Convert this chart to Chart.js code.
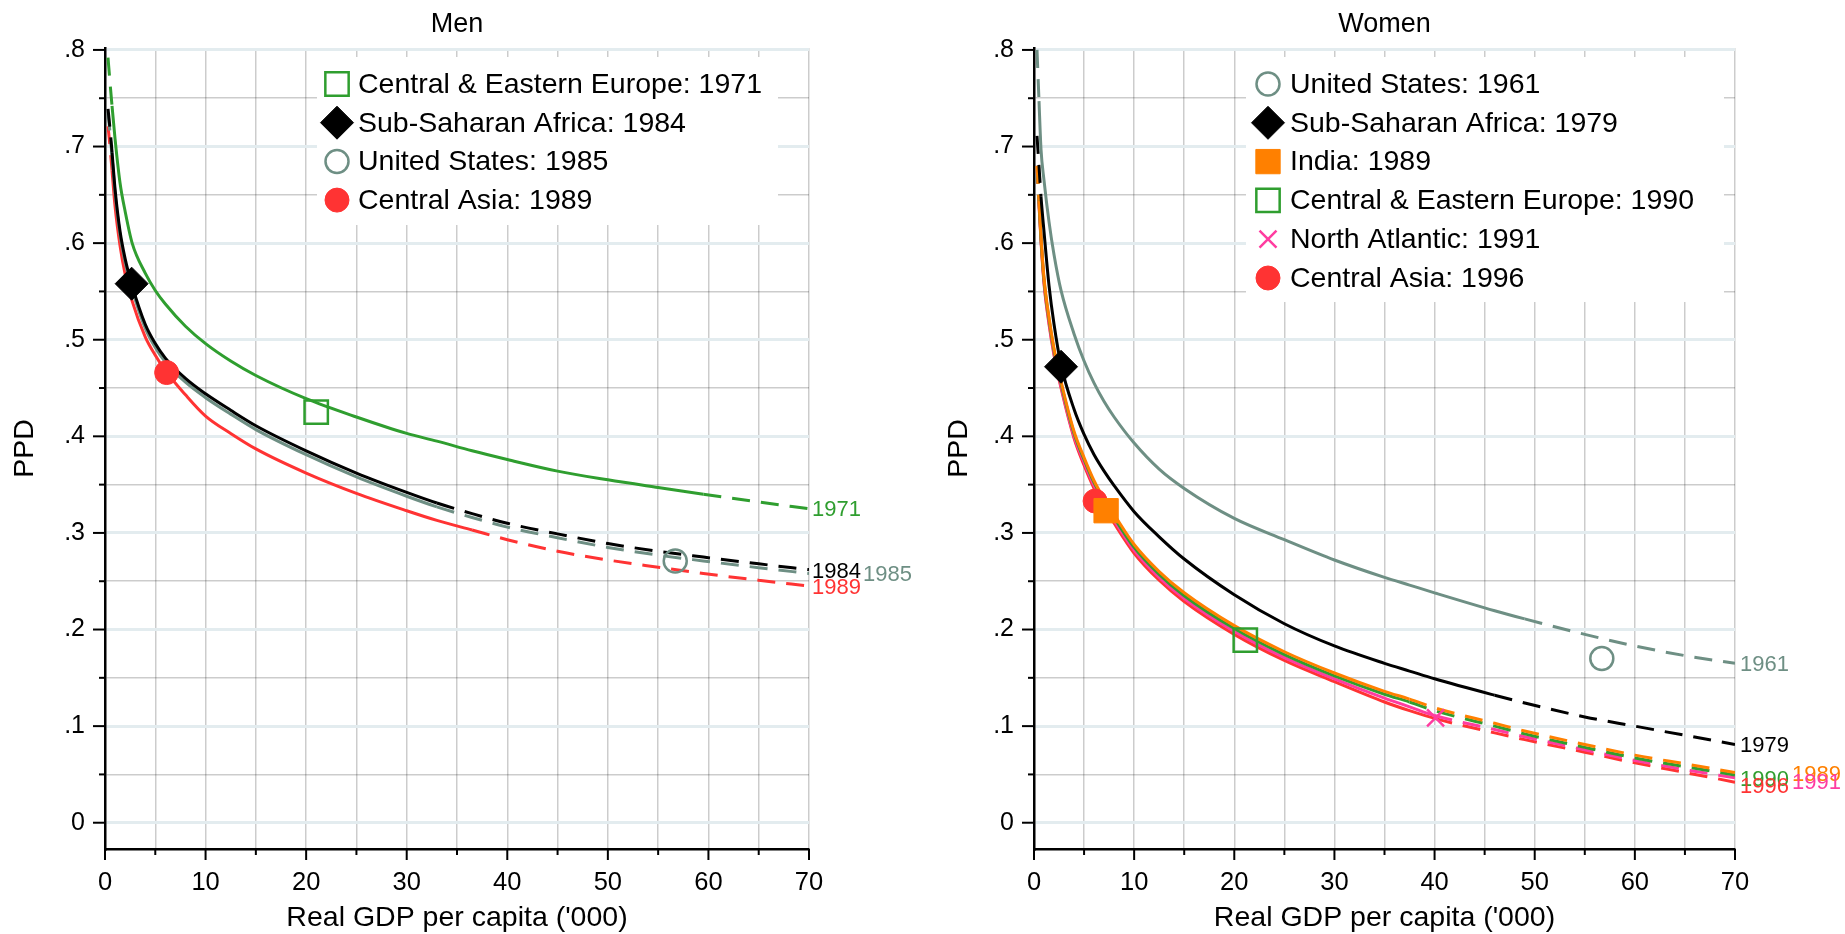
<!DOCTYPE html>
<html lang="en">
<head>
<meta charset="UTF-8">
<title>PPD and real GDP per capita</title>
<script src="https://cdn.jsdelivr.net/npm/chart.js"></script>
<style>
  html, body { margin: 0; padding: 0; background: #fff; }
  body { width: 1845px; height: 934px; position: relative; overflow: hidden; }
  .panel { position: absolute; top: 0; height: 934px; }
  #menPanel { left: 0; width: 920px; }
  #womenPanel { left: 920px; width: 925px; }
</style>
</head>
<body>
<div class="panel" id="menPanel"><canvas id="menChart" width="920" height="934"></canvas></div>
<div class="panel" id="womenPanel"><canvas id="womenChart" width="925" height="934"></canvas></div>
<script>
// values: PPD against real GDP per capita ('000)
const menGdp = [0.3, 0.5, 0.7, 1, 1.5, 2, 2.7, 4, 5, 6, 8, 10, 12.5, 15, 20, 25, 30, 33, 36.5, 40, 45, 50, 55, 59.5, 65, 70];
const menCEE = [0.792, 0.766, 0.742, 0.708, 0.662, 0.633, 0.600, 0.569, 0.551, 0.537, 0.514, 0.496, 0.478, 0.463, 0.439, 0.420, 0.403, 0.395, 0.385, 0.376, 0.364, 0.355, 0.347, 0.340, 0.332, 0.325];
const menSSA = [0.739, 0.718, 0.694, 0.656, 0.612, 0.584, 0.556, 0.516, 0.496, 0.481, 0.460, 0.444, 0.427, 0.411, 0.385, 0.362, 0.342, 0.331, 0.320, 0.310, 0.299, 0.289, 0.281, 0.275, 0.268, 0.262];
const menUSA = [0.735, 0.714, 0.690, 0.652, 0.608, 0.580, 0.552, 0.512, 0.492, 0.477, 0.456, 0.440, 0.423, 0.407, 0.381, 0.358, 0.338, 0.327, 0.316, 0.306, 0.295, 0.285, 0.277, 0.271, 0.264, 0.258];
const menCA  = [0.721, 0.700, 0.675, 0.638, 0.597, 0.568, 0.540, 0.503, 0.484, 0.468, 0.443, 0.421, 0.403, 0.387, 0.362, 0.341, 0.323, 0.313, 0.303, 0.293, 0.281, 0.272, 0.2645, 0.258, 0.251, 0.245];
const menRegions = ['Central & Eastern Europe', 'Sub-Saharan Africa', 'United States', 'Central Asia'];
const menYears = ['1971', '1984', '1985', '1989'];
const menMarkX = [21, 2.65, 56.7, 6.13];
const menMarkY = [0.425, 0.558, 0.271, 0.466];

const womenGdp = [0.3, 0.5, 0.7, 1, 1.5, 2, 2.7, 4, 5, 6, 7, 8, 10, 12.5, 15, 20, 25, 30, 35, 37.5, 40, 46, 49, 55, 60, 65, 70];
const womenUSA = [0.800, 0.747, 0.697, 0.665, 0.622, 0.588, 0.551, 0.506, 0.478, 0.455, 0.436, 0.420, 0.393, 0.366, 0.346, 0.315, 0.293, 0.272, 0.254, 0.246, 0.238, 0.2195, 0.211, 0.195, 0.183, 0.173, 0.165];
const womenSSA = [0.711, 0.680, 0.648, 0.612, 0.556, 0.516, 0.474, 0.428, 0.402, 0.381, 0.364, 0.349, 0.322, 0.296, 0.273, 0.236, 0.206, 0.183, 0.165, 0.157, 0.149, 0.132, 0.124, 0.1095, 0.100, 0.0905, 0.081];
const womenIND = [0.680, 0.644, 0.607, 0.564, 0.523, 0.491, 0.457, 0.405, 0.378, 0.354, 0.335, 0.319, 0.288, 0.260, 0.238, 0.204, 0.177, 0.155, 0.136, 0.128, 0.119, 0.103, 0.095, 0.081, 0.070, 0.061, 0.052];
const womenCEE = [0.680, 0.643, 0.605, 0.562, 0.521, 0.489, 0.455, 0.403, 0.376, 0.352, 0.333, 0.316, 0.285, 0.257, 0.235, 0.201, 0.174, 0.152, 0.133, 0.125, 0.116, 0.100, 0.092, 0.078, 0.067, 0.058, 0.0495];
const womenNA  = [0.680, 0.642, 0.604, 0.560, 0.518, 0.486, 0.452, 0.400, 0.373, 0.349, 0.330, 0.313, 0.282, 0.254, 0.232, 0.198, 0.171, 0.149, 0.129, 0.120, 0.111, 0.0965, 0.089, 0.0755, 0.0645, 0.055, 0.0465];
const womenCA  = [0.680, 0.640, 0.602, 0.558, 0.516, 0.484, 0.450, 0.398, 0.370, 0.346, 0.327, 0.310, 0.279, 0.251, 0.229, 0.195, 0.168, 0.146, 0.125, 0.116, 0.108, 0.093, 0.086, 0.073, 0.062, 0.052, 0.042];
const womenRegions = ['United States', 'Sub-Saharan Africa', 'India', 'Central & Eastern Europe', 'North Atlantic', 'Central Asia'];
const womenYears = ['1961', '1979', '1989', '1990', '1991', '1996'];
const womenMarkX = [56.7, 2.7, 7.2, 21.1, 40.1, 6.1];
const womenMarkY = [0.170, 0.472, 0.323, 0.189, 0.1086, 0.333];

const xTicks = [0, 5, 10, 15, 20, 25, 30, 35, 40, 45, 50, 55, 60, 65, 70];
const xTickLabels = ['0', '', '10', '', '20', '', '30', '', '40', '', '50', '', '60', '', '70'];
const yTicks = [0, 0.05, 0.1, 0.15, 0.2, 0.25, 0.3, 0.35, 0.4, 0.45, 0.5, 0.55, 0.6, 0.65, 0.7, 0.75, 0.8];
const yTickLabels = ['0', '', '.1', '', '.2', '', '.3', '', '.4', '', '.5', '', '.6', '', '.7', '', '.8'];

// styles
const FONT = "'Liberation Sans', Arial, sans-serif";
const C = { green: '#2f9e2f', black: '#000000', gray: '#6e8f84', red: '#ff3333', orange: '#ff8000', pink: '#ff3ca0' };
const DASH = [18, 11];

const menStyle = [
  { color: C.green, marker: 'rect', filled: false, r: 16.5, solid: [0.7, 59.5], dx: 3, dy: 1.5 },
  { color: C.black, marker: 'rectRot', filled: true, r: 16.5, solid: [0.7, 33], dx: 3, dy: 2 },
  { color: C.gray, marker: 'circle', filled: false, r: 11.5, solid: [0.7, 33], dx: 54, dy: 1 },
  { color: C.red, marker: 'circle', filled: true, r: 12, solid: [0.7, 36.5], dx: 3, dy: 1.5 }
];
const womenStyle = [
  { color: C.gray, marker: 'circle', filled: false, r: 11.5, solid: [0.5, 49], dx: 5, dy: 2 },
  { color: C.black, marker: 'rectRot', filled: true, r: 16.5, solid: [0.7, 46], dx: 5, dy: 1.5 },
  { color: C.orange, marker: 'rect', filled: true, r: 17.2, solid: [0.5, 37.5], dx: 57, dy: 2 },
  { color: C.green, marker: 'rect', filled: false, r: 16.5, solid: [0.5, 37.5], dx: 5, dy: 5 },
  { color: C.pink, marker: 'crossRot', filled: false, r: 12, solid: [0.5, 40], dx: 57, dy: 5 },
  { color: C.red, marker: 'circle', filled: true, r: 12, solid: [0.5, 40], dx: 5, dy: 5 }
];

Chart.defaults.font.family = FONT;
Chart.defaults.color = '#000';

function buildDatasets(gdp, series, markX, markY, styles, years) {
  const lines = series.map((ys, i) => {
    const st = styles[i];
    return {
      type: 'line',
      label: years[i],
      order: 1,
      data: gdp.map((x, j) => ({ x: x, y: ys[j] })),
      borderColor: st.color,
      borderWidth: 3,
      pointRadius: 0,
      fill: false,
      cubicInterpolationMode: 'monotone',
      segment: {
        borderDash: c => (c.p0.parsed.x < st.solid[0] || c.p1.parsed.x > st.solid[1]) ? DASH : undefined
      },
      endLabel: { text: years[i], dx: st.dx, dy: st.dy, color: st.color }
    };
  });
  const marks = markX.map((x, i) => {
    const st = styles[i];
    return {
      type: 'scatter',
      order: 0,
      data: [{ x: x, y: markY[i] }],
      pointStyle: st.marker,
      pointRadius: st.r,
      pointBorderWidth: st.filled ? 1 : 2.5,
      pointBorderColor: st.color,
      pointBackgroundColor: st.filled ? st.color : 'rgba(0,0,0,0)',
      clip: false
    };
  });
  return marks.concat(lines);
}

// small marker drawer for the legend (same shapes as chart.js point styles)
function drawMarker(ctx, st, x, y) {
  const r = st.r;
  ctx.save();
  ctx.strokeStyle = st.color;
  ctx.fillStyle = st.color;
  ctx.lineWidth = st.filled ? 1 : 2.5;
  ctx.beginPath();
  if (st.marker === 'circle') {
    ctx.arc(x, y, r, 0, Math.PI * 2);
  } else if (st.marker === 'rect') {
    const s = r * Math.SQRT1_2;
    ctx.rect(x - s, y - s, 2 * s, 2 * s);
  } else if (st.marker === 'rectRot') {
    ctx.moveTo(x - r, y); ctx.lineTo(x, y - r); ctx.lineTo(x + r, y); ctx.lineTo(x, y + r); ctx.closePath();
  } else if (st.marker === 'crossRot') {
    const s = r * Math.SQRT1_2;
    ctx.moveTo(x - s, y - s); ctx.lineTo(x + s, y + s);
    ctx.moveTo(x - s, y + s); ctx.lineTo(x + s, y - s);
  }
  if (st.filled) ctx.fill();
  ctx.stroke();
  ctx.restore();
}

const panelExtras = {
  id: 'panelExtras',
  afterDraw(chart, args, opts) {
    const ctx = chart.ctx, a = chart.chartArea;
    const xs = chart.scales.x, ys = chart.scales.y;
    ctx.save();
    // tick marks
    ctx.strokeStyle = '#000';
    ctx.lineWidth = 2;
    xs.ticks.forEach((t, i) => {
      const px = xs.getPixelForValue(t.value);
      const len = xTickLabels[i] ? 11 : 6;
      ctx.beginPath(); ctx.moveTo(px, a.bottom); ctx.lineTo(px, a.bottom + len); ctx.stroke();
    });
    ys.ticks.forEach((t, i) => {
      const py = ys.getPixelForValue(t.value);
      const len = yTickLabels[i] ? 12 : 6;
      ctx.beginPath(); ctx.moveTo(a.left, py); ctx.lineTo(a.left - len, py); ctx.stroke();
    });
    // panel title
    ctx.fillStyle = '#000';
    ctx.font = '27px ' + FONT;
    ctx.textAlign = 'center';
    ctx.textBaseline = 'middle';
    ctx.fillText(opts.title, (a.left + a.right) / 2, 25);
    // end-of-line year labels
    ctx.font = '22px ' + FONT;
    ctx.textAlign = 'left';
    chart.data.datasets.forEach(ds => {
      if (!ds.endLabel) return;
      const last = ds.data[ds.data.length - 1];
      ctx.fillStyle = ds.endLabel.color;
      ctx.fillText(ds.endLabel.text, xs.getPixelForValue(last.x) + ds.endLabel.dx, ys.getPixelForValue(last.y) + ds.endLabel.dy);
    });
    // legend box inside the plot
    const L = opts.legend;
    ctx.fillStyle = '#fff';
    ctx.fillRect(L.box[0], L.box[1], L.box[2] - L.box[0], L.box[3] - L.box[1]);
    ctx.font = '28.5px ' + FONT;
    ctx.textBaseline = 'middle';
    L.items.forEach((it, i) => {
      const y = L.rowY + i * L.rowGap;
      drawMarker(ctx, it.style, L.markerX, y);
      ctx.fillStyle = '#000';
      ctx.fillText(it.text, L.textX, y + 1);
    });
    ctx.restore();
  }
};

function makeChart(id, o) {
  const datasets = buildDatasets(o.gdp, o.series, o.markX, o.markY, o.styles, o.years);
  return new Chart(document.getElementById(id), {
    type: 'line',
    data: { datasets: datasets },
    plugins: [panelExtras],
    options: {
      responsive: false,
      animation: false,
      events: [],
      layout: { padding: { left: 0, top: 48, right: o.padRight, bottom: 0 } },
      plugins: {
        legend: { display: false },
        tooltip: { enabled: false },
        panelExtras: {
          title: o.title,
          legend: {
            box: o.legendBox, rowY: o.rowY, rowGap: o.rowGap, markerX: o.markerX, textX: o.textX,
            items: o.regions.map((r, i) => ({ text: r + ': ' + o.years[i], style: o.styles[i] }))
          }
        }
      },
      scales: {
        x: {
          type: 'linear', min: 0, max: 70,
          afterBuildTicks: s => { s.ticks = xTicks.map(v => ({ value: v })); },
          afterFit: s => { s.height = 85; },
          ticks: { callback: (v, i) => xTickLabels[i], font: { size: 25.5 }, padding: 8, maxRotation: 0, autoSkip: false },
          grid: {
            color: c => (c.tick && c.tick.value === 0) ? 'rgba(0,0,0,0)' : 'rgba(0,0,0,0.2)',
            lineWidth: 1.5, tickLength: 11, tickColor: 'rgba(0,0,0,0)'
          },
          border: { color: '#000', width: 2.5 },
          title: { display: true, text: "Real GDP per capita ('000)", font: { size: 28.5, lineHeight: 1.1 }, padding: { top: 0, bottom: 0 } }
        },
        y: {
          type: 'linear', min: -0.0272, max: 0.802,
          afterBuildTicks: s => { s.ticks = yTicks.map(v => ({ value: v })); },
          afterFit: s => { s.width = o.yWidth; },
          ticks: { callback: (v, i) => yTickLabels[i], font: { size: 25 }, padding: 8, autoSkip: false },
          grid: {
            color: c => (c.tick && yTickLabels[c.index]) ? '#e3ecef' : 'rgba(0,0,0,0.2)',
            lineWidth: c => (c.tick && yTickLabels[c.index]) ? 3 : 1.5,
            tickLength: 12, tickColor: 'rgba(0,0,0,0)'
          },
          border: { color: '#000', width: 2.5 },
          title: { display: true, text: 'PPD', font: { size: 28.5, lineHeight: 1.1 }, padding: { top: o.yTitlePad, bottom: 0 } }
        }
      }
    }
  });
}

makeChart('menChart', {
  title: 'Men', gdp: menGdp, series: [menCEE, menSSA, menUSA, menCA],
  markX: menMarkX, markY: menMarkY, styles: menStyle, years: menYears, regions: menRegions,
  padRight: 111, yWidth: 105, yTitlePad: 9,
  legendBox: [317, 57, 778, 225], rowY: 84, rowGap: 38.7, markerX: 337, textX: 358
});

makeChart('womenChart', {
  title: 'Women', gdp: womenGdp, series: [womenUSA, womenSSA, womenIND, womenCEE, womenNA, womenCA],
  markX: womenMarkX, markY: womenMarkY, styles: womenStyle, years: womenYears, regions: womenRegions,
  padRight: 110, yWidth: 114, yTitlePad: 23,
  legendBox: [326, 57, 804, 302], rowY: 84, rowGap: 38.8, markerX: 348, textX: 370
});
</script>
</body>
</html>
